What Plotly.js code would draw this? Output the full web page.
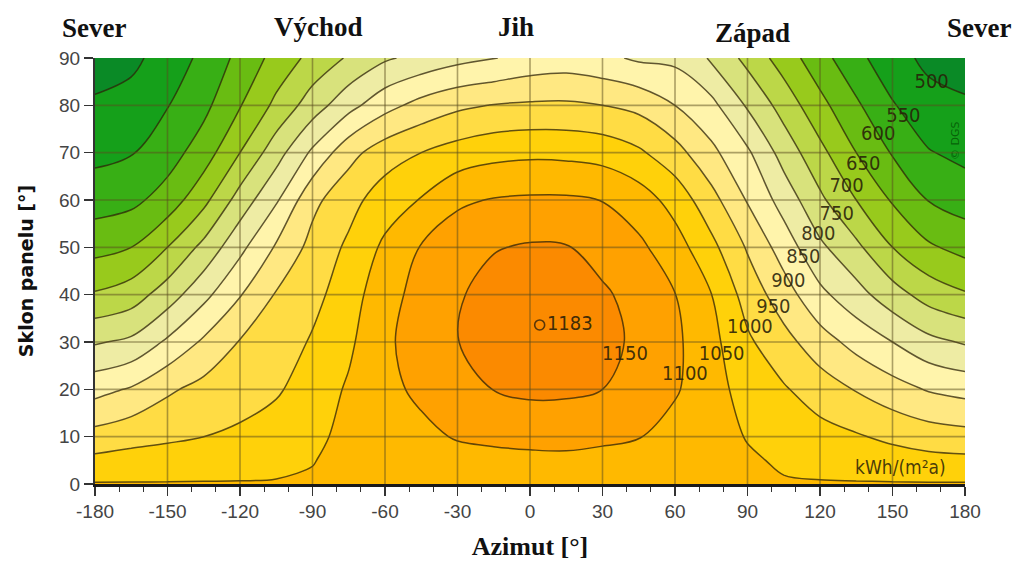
<!DOCTYPE html>
<html>
<head>
<meta charset="utf-8">
<script src="https://cdn.plot.ly/plotly-3.0.1.min.js"></script>
<style>
  html, body { margin: 0; padding: 0; background: #fff; }
  #chart { width: 1014px; height: 561px; }
</style>
</head>
<body>
<div id="chart"></div>
<script>
// Azimuth of the panel [deg] (columns) and tilt of the panel [deg] (rows)
const azimuth = [-180,-165,-150,-135,-120,-105,-90,-75,-60,-45,-30,-15,0,15,30,45,60,75,90,105,120,135,150,165,180];
const tilt = [0,5,10,20,30,40,50,60,70,80,90];

// Annual irradiation kWh/(m2 a), one row per tilt
const irr_t0  = [1053,1053,1053,1053,1053,1053,1053,1053,1053,1053,1053,1053,1053,1053,1053,1053,1053,1053,1053,1053,1053,1053,1053,1053,1053];
const irr_t5  = [1012,1018,1021,1027,1031,1039,1049,1058,1063,1070,1082,1085,1088,1088,1085,1080,1070,1060,1055,1045,1036,1030,1022,1015,1012];
const irr_t10 = [968,983,992,1000,1009,1023,1040,1062,1073,1088,1104,1111,1115,1118,1110,1102,1083,1066,1048,1032,1018,1005,989,975,968];
const irr_t20 = [883,905,942,966,979,994,1023,1056,1087,1110,1130,1151,1160,1158,1150,1125,1105,1072,1028,1005,975,947,920,896,883];
const irr_t30 = [795,810,858,908,953,974,1005,1041,1092,1120,1149,1172,1182,1180,1165,1140,1110,1065,1008,967,922,883,850,814,795];
const irr_t40 = [705,725,775,836,897,954,986,1025,1085,1114,1145,1168,1176,1175,1158,1131,1101,1051,980,923,862,819,771,729,705];
const irr_t50 = [634,650,700,764,837,906,966,1009,1060,1103,1128,1147,1155,1153,1130,1110,1072,1014,945,877,810,761,700,657,634];
const irr_t60 = [577,587,621,686,771,844,937,983,1025,1053,1092,1103,1107,1107,1099,1075,1031,968,896,830,760,700,645,598,577];
const irr_t70 = [537,547,578,625,700,779,859,933,977,1000,1021,1035,1040,1038,1031,1008,969,912,858,780,714,650,596,553,537];
const irr_t80 = [506,518,548,587,647,712,775,833,883,917,940,952,957,958,950,936,900,864,794,730,665,608,554,518,506];
const irr_t90 = [480,488,522,562,614,667,715,756,793,815,835,848,866,873,862,842,838,795,735,677,619,564,519,488,480];

// Contour levels and their labels
const levelStart = 500, levelEnd = 1150, levelStep = 50;
const labelLevels = ['500','550','600','650','700','750','800','850','900','950','1000','1050','1100','1150'];
const labelAz   = [166.2,154.5,144.1,137.9,131.0,126.9,119.3,113.1,106.9,100.7,91.0,79.3,64.1,39.3];
const labelTilt = [84.7,77.6,73.7,67.4,62.8,56.8,52.6,47.7,42.7,37.1,32.9,27.3,23.0,27.3];

// Maximum
const maxAz = [4];
const maxTilt = [33.6];
const maxValue = ['1183'];

// Axes ticks and compass directions
const xTicks = [-180,-150,-120,-90,-60,-30,0,30,60,90,120,150,180];
const yTicks = [0,10,20,30,40,50,60,70,80,90];
const dirNames = ['Sever','Východ','Jih','Západ','Sever'];
const dirAz = [-180,-90,0,90,180];

// band colours: below 500, 500-550, ..., above 1150
const bandColors = ['#0a8a26','#15a01a','#38af15','#69bc12','#98ca1c','#bcd748','#d8e27c','#eeeca4',
                    '#fff4ab','#ffe882','#ffdc44','#ffd10a','#ffb900','#ffa100','#fb8a00'];

const z = [irr_t0, irr_t5, irr_t10, irr_t20, irr_t30, irr_t40, irr_t50, irr_t60, irr_t70, irr_t80, irr_t90];
const colorscale = bandColors.map((c, i) => [i / (bandColors.length - 1), c]);

const narrow = 'Liberation Sans Narrow, DejaVu Sans Condensed, Arial Narrow, sans-serif';

const traces = [
  {
    type: 'contour',
    x: azimuth, y: tilt, z: z,
    autocontour: false,
    contours: { start: levelStart, end: levelEnd, size: levelStep, coloring: 'fill', showlines: true },
    colorscale: colorscale,
    showscale: false,
    line: { color: 'rgba(45,35,8,0.75)', width: 1.5, smoothing: 1 },
    hoverinfo: 'skip'
  },
  {
    type: 'scatter', mode: 'text',
    x: labelAz, y: labelTilt, text: labelLevels,
    textfont: { family: narrow, size: 20, color: 'rgba(40,32,8,0.88)' },
    hoverinfo: 'skip', cliponaxis: false
  },
  {
    type: 'scatter', mode: 'markers+text',
    x: maxAz, y: maxTilt, text: maxValue, textposition: 'middle right',
    marker: { symbol: 'circle-open', size: 10, color: 'rgba(60,40,10,0.85)', line: { width: 1.6 } },
    textfont: { family: narrow, size: 20, color: 'rgba(40,32,8,0.9)' },
    hoverinfo: 'skip'
  }
];

const gridColor = 'rgba(90,75,30,0.5)';
const shapes = [];
xTicks.slice(1, -1).forEach(v => shapes.push({
  type: 'line', xref: 'x', yref: 'paper', x0: v, x1: v, y0: 0, y1: 1, layer: 'above',
  line: { color: gridColor, width: 1.6 }
}));
yTicks.slice(1, -1).forEach(v => shapes.push({
  type: 'line', xref: 'paper', yref: 'y', x0: 0, x1: 1, y0: v, y1: v, layer: 'above',
  line: { color: gridColor, width: 1.6 }
}));

const dirShift = [-1, 6, -14, 5, 14];
const dirY = [1.070, 1.073, 1.073, 1.059, 1.070];
const annotations = dirNames.map((t, i) => ({
  text: t, x: dirAz[i], xref: 'x', y: dirY[i], yref: 'paper', xshift: dirShift[i],
  showarrow: false, xanchor: 'center', yanchor: 'middle',
  font: { family: 'Liberation Serif, Times New Roman, serif', size: 27, color: '#111', weight: 'bold' }
}));
annotations.push({
  text: 'kWh/(m²a)', x: 153.5, y: 3.6, xref: 'x', yref: 'y', showarrow: false,
  font: { family: narrow, size: 19, color: 'rgba(40,32,8,0.85)' }
});
annotations.push({
  text: '© DGS', x: 176.3, y: 72.5, xref: 'x', yref: 'y', showarrow: false, textangle: -90,
  font: { family: 'DejaVu Sans', size: 11, color: 'rgba(0,70,0,0.7)' }
});

const layout = {
  width: 1014, height: 561,
  margin: { l: 95, r: 49, t: 58, b: 77 },
  paper_bgcolor: '#fff', plot_bgcolor: '#fff',
  showlegend: false,
  xaxis: {
    range: [-180, 180], tickvals: xTicks, ticktext: xTicks.map(String),
    ticks: 'outside', ticklen: 9, tickwidth: 1.5, tickcolor: '#333',
    minor: { dtick: 10, tick0: 0, ticks: 'outside', ticklen: 5, tickwidth: 1.2, tickcolor: '#333', showgrid: false },
    showline: true, linecolor: '#1a1a1a', linewidth: 2.5,
    showgrid: false, zeroline: false,
    tickfont: { family: 'Liberation Sans, Arial, sans-serif', size: 19, color: '#444' },
    title: { text: 'Azimut [°]', standoff: 16,
             font: { family: 'Liberation Serif, Times New Roman, serif', size: 26, color: '#111', weight: 'bold' } }
  },
  yaxis: {
    range: [0, 90], tickvals: yTicks,
    ticks: 'outside', ticklen: 9, tickwidth: 1.5, tickcolor: '#333',
    showline: true, linecolor: '#333', linewidth: 2,
    showgrid: false, zeroline: false,
    tickfont: { family: 'Liberation Sans, Arial, sans-serif', size: 19, color: '#444' },
    title: { text: 'Sklon panelu [°]', standoff: 20,
             font: { family: 'DejaVu Sans, sans-serif', size: 19, color: '#111', weight: 'bold' } }
  },
  shapes: shapes,
  annotations: annotations
};

Plotly.newPlot('chart', traces, layout, { staticPlot: true, displayModeBar: false });
</script>
</body>
</html>
